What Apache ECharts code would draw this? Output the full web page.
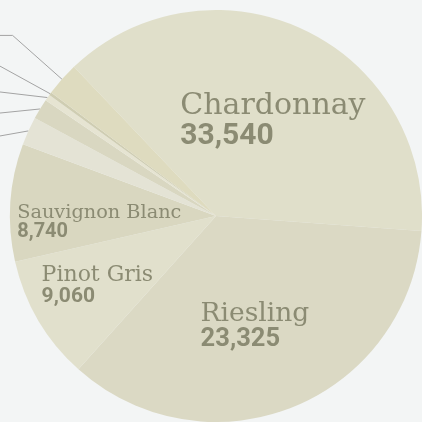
<!DOCTYPE html>
<html>
<head>
<meta charset="utf-8">
<script src="https://cdn.jsdelivr.net/npm/echarts@6/dist/echarts.min.js"></script>
<style>
html, body { margin: 0; padding: 0; width: 422px; height: 422px; overflow: hidden; background: #f3f5f5; }
#chart { position: absolute; left: -400px; top: 0; width: 822px; height: 422px; }
</style>
</head>
<body>
<div id="chart"></div>
<script>
const varieties = ['Chardonnay', 'Riesling', 'Pinot Gris', 'Sauvignon Blanc', 'Pinot Noir', 'Merlot', 'Gewürztraminer', 'Viognier', 'Other']
const sliceDegrees = [137.8, 127.7, 35.3, 33.2, 8.0, 5.8, 1.8, 0.8, 9.6]
// numbers printed inside the four large slices
const printedValues = [33540, 23325, 9060, 8740, null, null, null, null, null]

const sliceColors = ['#e0dfca', '#dbd9c4', '#e1e0cc', '#d9d7c0', '#e4e3d5', '#d9d7c1', '#e6e4d2', '#cfcdb2', '#dedbbf']

// font sizes and nudges of the inside labels
const insideLabel = {
  'Chardonnay':      { name: 30, num: 30, dx: -81, dy: 0 },
  'Riesling':        { name: 26.5, num: 25.5, dx: -55, dy: 11 },
  'Pinot Gris':      { name: 22, num: 21, dx: -83, dy: 15 },
  'Sauvignon Blanc': { name: 19.3, num: 20, dx: -93, dy: 13 },
}

const textColor = '#8b8b73'
const chart = echarts.init(document.getElementById('chart'))

const data = varieties.map((name, i) => {
  const big = insideLabel[name]
  const item = { name, value: sliceDegrees[i], itemStyle: { color: sliceColors[i] } }
  if (big) {
    item.label = {
      position: 'inside',
      formatter: () => '{n|' + name + '}\n{v|' + printedValues[i].toLocaleString('en-US') + '}',
      rich: {
        n: { fontFamily: 'DejaVu Serif', fontSize: big.name, color: textColor, align: 'left', lineHeight: Math.round(big.name * 1.1) },
        v: { fontFamily: 'Roboto', fontWeight: 'bold', fontSize: big.num, color: textColor, align: 'left', lineHeight: Math.round(big.num * 0.9) },
      },
    }
    item.labelLine = { show: false }
  }
  return item
})

chart.setOption({
  animation: false,
  series: [{
    type: 'pie',
    silent: true,
    center: [616, 216],
    radius: 206,
    startAngle: 133.6,
    clockwise: true,
    data,
    label: {
      position: 'outside',
      color: textColor,
      fontFamily: 'DejaVu Serif',
      fontSize: 14,
      lineHeight: 25,
    },
    labelLine: { show: true, length: 66, length2: 60, lineStyle: { color: '#a3a3a3', width: 1 } },
    labelLayout: p => {
      const big = insideLabel[varieties[p.dataIndex]]
      return big ? { align: 'left', dx: big.dx, dy: big.dy } : null
    },
  }],
})
</script>
</body>
</html>
